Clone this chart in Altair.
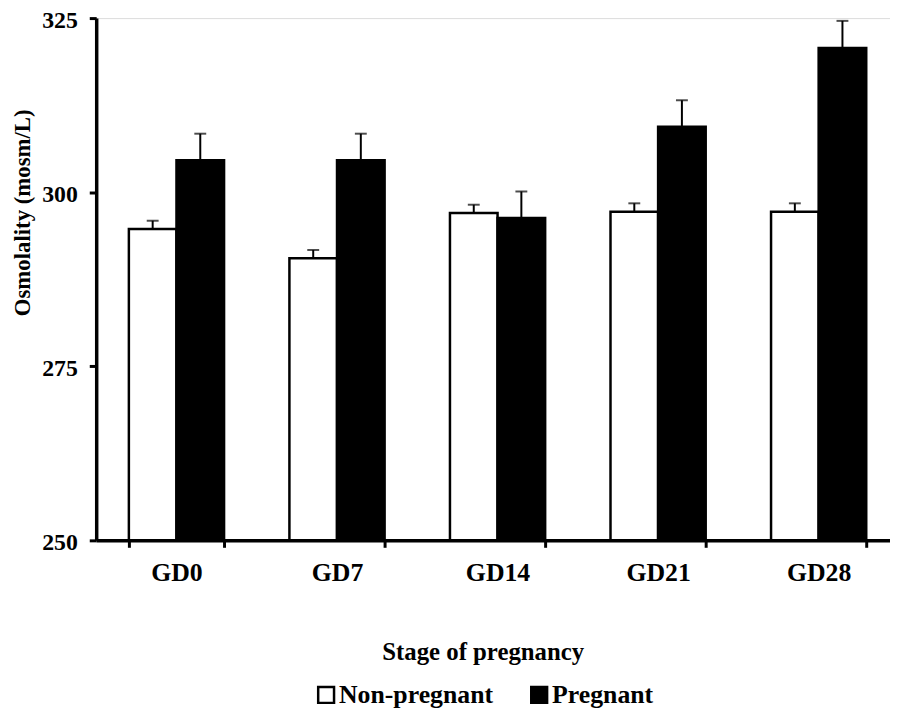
import altair as alt
import pandas as pd

stages = ["GD0", "GD7", "GD14", "GD21", "GD28"]
groups = ["Non-pregnant", "Pregnant"]
nonpreg_mean = [294.7, 290.5, 297.0, 297.2, 297.2]
nonpreg_se = [1.2, 1.2, 1.2, 1.2, 1.2]
preg_mean = [304.6, 304.6, 296.3, 309.4, 320.7]
preg_se = [3.8, 3.8, 3.8, 3.8, 3.9]
y_ticks = [250, 275, 300, 325]
y_min = 250

rows = []
for i, s in enumerate(stages):
    rows.append({"stage": s, "group": groups[0], "mean": nonpreg_mean[i],
                 "upper": nonpreg_mean[i] + nonpreg_se[i]})
    rows.append({"stage": s, "group": groups[1], "mean": preg_mean[i],
                 "upper": preg_mean[i] + preg_se[i]})
df = pd.DataFrame(rows)

FONT = "Liberation Serif"

x = alt.X(
    "stage:N", sort=stages,
    scale=alt.Scale(range=[0, 810], paddingInner=0.407, paddingOuter=0.2035),
    axis=alt.Axis(
        title="Stage of pregnancy", labelAngle=0, tickBand="extent",
        labelFont=FONT, labelFontSize=26, labelFontWeight="bold", labelColor="black",
        labelPadding=13,
        titleFont=FONT, titleFontSize=25, titleFontWeight="bold", titleColor="black",
        titleX=390, titleY=112, titleBaseline="middle", titleAlign="center",
        domainColor="black", domainWidth=3.5, tickColor="black", tickWidth=3, tickSize=7,
    ),
)
xo = alt.XOffset("group:N", sort=groups, scale=alt.Scale(paddingInner=0, paddingOuter=0))
y_scale = alt.Scale(domain=[250, 325], nice=False, zero=False)

bars = alt.Chart(df).mark_bar(stroke="black", strokeWidth=2.5).encode(
    x=x,
    xOffset=xo,
    y=alt.Y(
        "mean:Q", scale=y_scale,
        axis=alt.Axis(
            values=y_ticks, title="Osmolality (mosm/L)", grid=False,
            labelFont=FONT, labelFontSize=24, labelFontWeight="bold", labelColor="black",
            labelPadding=12, labelOffset=2,
            titleFont=FONT, titleFontSize=23, titleFontWeight="bold", titleColor="black",
            titleX=-74, titleY=196, titleBaseline="middle", titleAlign="center", titleAngle=270,
            domainColor="black", domainWidth=3.5, tickColor="black", tickWidth=3, tickSize=7,
        ),
    ),
    y2=alt.datum(y_min),
    color=alt.Color(
        "group:N",
        scale=alt.Scale(domain=groups, range=["white", "black"]),
        legend=alt.Legend(
            title=None, orient="none", legendX=219, legendY=670, direction="horizontal",
            symbolType="square", symbolSize=256, symbolStrokeColor="black",
            symbolStrokeWidth=2.5, labelFont=FONT, labelFontSize=26,
            labelFontWeight="bold", labelColor="black", labelOffset=0,
            columnPadding=33, padding=0,
        ),
    ),
)

err = alt.Chart(df).mark_rule(color="black", strokeWidth=2).encode(
    x=x, xOffset=xo,
    y=alt.Y("mean:Q", scale=y_scale),
    y2="upper:Q",
)

caps = alt.Chart(df).mark_tick(color="black", thickness=2, size=12).encode(
    x=x, xOffset=xo,
    y=alt.Y("upper:Q", scale=y_scale),
)

chart = alt.layer(bars, err, caps).properties(
    width=801, height=527,
    autosize=alt.AutoSizeParams(type="none"),
    padding={"left": 89, "top": 7, "right": 0, "bottom": 169},
).configure_view(stroke=None).configure(background="white")

chart.save("out.html", embed_options={"renderer": "svg", "actions": False})
